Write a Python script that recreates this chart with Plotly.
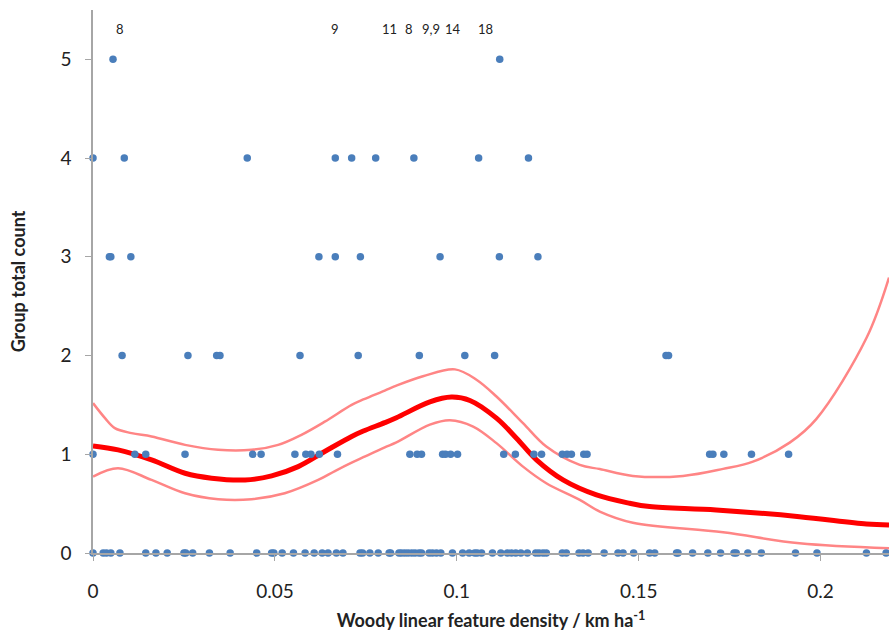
import plotly.graph_objects as go

# ---- data ----
y0_x = [0, 0.0028, 0.0037, 0.0049, 0.0074, 0.0145, 0.0173, 0.0204, 0.025, 0.0255, 0.0274,
        0.032, 0.0377, 0.045, 0.0491, 0.0497, 0.052, 0.0551, 0.0583, 0.0608, 0.063, 0.0646,
        0.0669, 0.0687, 0.0734, 0.0741, 0.0761, 0.0784, 0.0814, 0.0818, 0.0841, 0.0848,
        0.0857, 0.0866, 0.0876, 0.0885, 0.0896, 0.0903, 0.0924, 0.0933, 0.0944, 0.0956,
        0.0988, 0.1016, 0.1034, 0.1049, 0.1056, 0.1068, 0.1098, 0.1121, 0.1139, 0.115,
        0.1162, 0.1176, 0.1194, 0.1217, 0.1226, 0.1237, 0.1246, 0.129, 0.1301, 0.1336,
        0.1347, 0.1361, 0.1405, 0.1443, 0.1457, 0.1486, 0.153, 0.1544, 0.1604, 0.1608,
        0.1648, 0.169, 0.1725, 0.1762, 0.1768, 0.18, 0.1837, 0.1931, 0.199, 0.2126, 0.218]
y1_x = [0, 0.0115, 0.0145, 0.0253, 0.0439, 0.0462, 0.0555, 0.0585, 0.0599, 0.0622, 0.0672,
        0.0871, 0.0891, 0.0903, 0.0961, 0.0969, 0.0983, 0.1002, 0.1129, 0.1161, 0.1212,
        0.1233, 0.129, 0.1303, 0.1315, 0.1349, 0.1358, 0.1695, 0.1704, 0.1734, 0.181, 0.1912]
y2_x = [0.008, 0.0261, 0.034, 0.0349, 0.0569, 0.0729, 0.0897, 0.1022, 0.1104, 0.1575, 0.1582]
y3_x = [0.0045, 0.0049, 0.0104, 0.0621, 0.0666, 0.0735, 0.0954, 0.1117, 0.1223]
y4_x = [0, 0.0086, 0.0424, 0.0666, 0.0711, 0.0777, 0.0882, 0.106, 0.1197]
y5_x = [0.0055, 0.1118]

outlier_x = [0.0074, 0.0665, 0.0816, 0.0869, 0.093, 0.099, 0.1079]
outlier_labels = ["8", "9", "11", "8", "9,9", "14", "18"]

mean_x = [0, 0.0069, 0.0161, 0.0253, 0.0326, 0.0418, 0.0491, 0.0564, 0.0637, 0.0711, 0.0743,
          0.0802, 0.0834, 0.0926, 0.0985, 0.1036, 0.1109, 0.1164, 0.1219, 0.1292, 0.1384,
          0.1475, 0.153, 0.1713, 0.1942, 0.2126, 0.2188]
mean_y = [1.085, 1.045, 0.943, 0.808, 0.758, 0.740, 0.781, 0.875, 1.028, 1.180, 1.235,
          1.32, 1.37, 1.53, 1.579, 1.545, 1.366, 1.163, 0.943, 0.740, 0.588,
          0.504, 0.470, 0.436, 0.368, 0.294, 0.284]

upper_x = [0, 0.0033, 0.006, 0.0106, 0.0161, 0.0253, 0.0344, 0.0436, 0.0509, 0.0573, 0.0637,
           0.0711, 0.0743, 0.0802, 0.0834, 0.0907, 0.0995, 0.1054, 0.1109, 0.1182, 0.1246,
           0.1338, 0.1393, 0.1484, 0.1622, 0.1732, 0.1814, 0.1915, 0.1988, 0.2126, 0.2188]
upper_y = [1.518, 1.366, 1.265, 1.214, 1.180, 1.095, 1.045, 1.045, 1.095, 1.197, 1.33,
           1.50, 1.555, 1.645, 1.695, 1.79, 1.86, 1.755, 1.585, 1.315, 1.078,
           0.892, 0.85, 0.781, 0.781, 0.852, 0.926, 1.118, 1.356, 2.177, 2.79]

lower_x = [0, 0.0069, 0.0161, 0.0253, 0.0344, 0.0436, 0.0527, 0.0619, 0.0665, 0.0711, 0.0743,
           0.0802, 0.0834, 0.0926, 0.0981, 0.1045, 0.1109, 0.1182, 0.1246, 0.1338, 0.1393,
           0.1484, 0.1732, 0.1942, 0.2188]
lower_y = [0.774, 0.859, 0.740, 0.605, 0.545, 0.545, 0.605, 0.740, 0.83, 0.915, 0.97,
           1.07, 1.12, 1.30, 1.345, 1.281, 1.113, 0.875, 0.707, 0.538, 0.42,
           0.307, 0.210, 0.098, 0.048]

x_tickvals = [0, 0.05, 0.1, 0.15, 0.2]
x_ticktext = ["0", "0.05", "0.1", "0.15", "0.2"]
y_tickvals = [0, 1, 2, 3, 4, 5]

# ---- build scatter ----
px = y0_x + y1_x + y2_x + y3_x + y4_x + y5_x
py = ([0] * len(y0_x) + [1] * len(y1_x) + [2] * len(y2_x) + [3] * len(y3_x)
      + [4] * len(y4_x) + [5] * len(y5_x))

FONT = "Lato"
fig = go.Figure()
fig.add_trace(go.Scatter(x=upper_x, y=upper_y, mode="lines", line=dict(color="#FF8585", width=2.5),
                         line_shape="spline", hoverinfo="skip", showlegend=False))
fig.add_trace(go.Scatter(x=lower_x, y=lower_y, mode="lines", line=dict(color="#FF8585", width=2.5),
                         line_shape="spline", hoverinfo="skip", showlegend=False))
fig.add_trace(go.Scatter(x=mean_x, y=mean_y, mode="lines", line=dict(color="#FF0000", width=5),
                         line_shape="spline", showlegend=False))
fig.add_trace(go.Scatter(x=px, y=py, mode="markers", cliponaxis=False,
                         marker=dict(color="#4A7EBB", size=7.5, line=dict(width=0)),
                         showlegend=False))

for xv, lab in zip(outlier_x, outlier_labels):
    fig.add_annotation(x=xv, y=5.31, text=lab, showarrow=False,
                       font=dict(family=FONT, size=13, color="#222222"))

fig.update_layout(
    width=889, height=634,
    margin=dict(l=93, r=0, t=10, b=81),
    paper_bgcolor="white", plot_bgcolor="white",
    font=dict(family=FONT, color="#222222"),
    xaxis=dict(range=[0, 0.2188], tickvals=x_tickvals, ticktext=x_ticktext, automargin=False,
               showgrid=False, zeroline=False, showline=True, linecolor="#A6A6A6", linewidth=1.5,
               ticks="outside", ticklen=6, tickcolor="#A6A6A6", ticklabelstandoff=14,
               tickfont=dict(size=19, family=FONT, color="#222222"),
               title=dict(text="<b>Woody linear feature density / km ha<sup>-1</sup></b>",
                          font=dict(size=18, family=FONT, color="#222222"), standoff=14)),
    yaxis=dict(range=[0, 5.5], tickvals=y_tickvals, automargin=False,
               showgrid=False, zeroline=False, showline=True, linecolor="#A6A6A6", linewidth=1.5,
               ticks="outside", ticklen=6, tickcolor="#A6A6A6", ticklabelstandoff=10,
               tickfont=dict(size=19, family=FONT, color="#222222"),
               title=dict(text="<b>Group total count</b>",
                          font=dict(size=18, family=FONT, color="#222222"), standoff=30)),
)

fig.write_html("out.html", config={"displayModeBar": False},
               post_script="document.body.style.margin='0';document.body.style.overflow='hidden';")
